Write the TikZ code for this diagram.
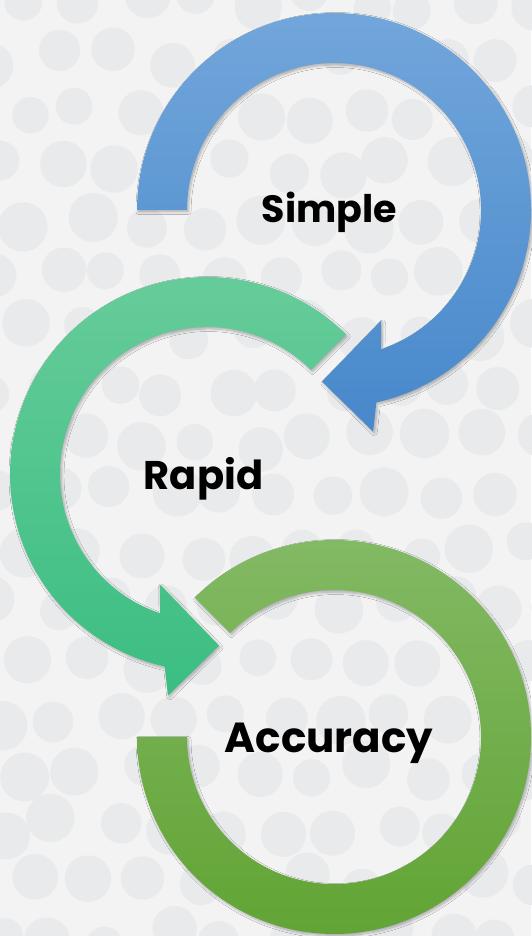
\documentclass[tikz,border=0pt]{standalone}
\usepackage{fontspec}
\newfontfamily\lblfont{Poppins}
\usetikzlibrary{shadows.blur}
\definecolor{bgc}{HTML}{F3F3F3}
\definecolor{dotc}{HTML}{E9EAEC}
\definecolor{blueT}{HTML}{72A6DB}
\definecolor{blueB}{HTML}{4788CB}
\definecolor{tealT}{HTML}{68CC9B}
\definecolor{tealB}{HTML}{3BBE82}
\definecolor{grnT}{HTML}{84BA66}
\definecolor{grnB}{HTML}{60A332}
\tikzset{
  shapeshadow/.style={blur shadow={shadow xshift=1.5pt, shadow yshift=-2pt, shadow blur steps=6, shadow blur radius=2.5pt, shadow opacity=28}},
  lbl/.style={font=\lblfont\bfseries, text=black, inner sep=0pt, anchor=base}
}
\begin{document}
\begin{tikzpicture}[x=1pt,y=1pt]
\useasboundingbox (0,0) rectangle (531,936);
\fill[bgc] (0,0) rectangle (531,936);
% background dot pattern
\pgfmathsetseed{5}
\foreach \j in {0,...,17}{
  \foreach \i in {0,...,10}{
    \pgfmathsetmacro\cx{\i*56+mod(\j,2)*28+rand*10}
    \pgfmathsetmacro\cy{\j*55+rand*10}
    \pgfmathsetmacro\rr{18+rnd*7}
    \fill[dotc] (\cx,\cy) circle[radius=\rr];
  }
}
% blue arrow (Simple)
\begin{scope}[shift={(334,726)}]
  \path[shapeshadow, top color=blueT, bottom color=blueB]
    (180:197) arc[start angle=180, end angle=-77.6, radius=197]
    -- (-80:225) -- (-94:172) -- (-66.8:120) -- (-71.4:147)
    arc[start angle=-71.4, end angle=180, radius=147] -- cycle;
\end{scope}
% teal arrow (Rapid)
\begin{scope}[shift={(207,462)}]
  \path[shapeshadow, top color=tealT, bottom color=tealB]
    (45:197) arc[start angle=45, end angle=257.6, radius=197]
    -- (260:225) -- (274:172) -- (246.8:120) -- (251.4:147)
    arc[start angle=251.4, end angle=45, radius=147] -- cycle;
\end{scope}
% green ring (Accuracy)
\begin{scope}[shift={(334,199)}]
  \path[shapeshadow, top color=grnT, bottom color=grnB]
    (135:197) arc[start angle=135, end angle=-180, radius=197]
    -- (180:147) arc[start angle=-180, end angle=135, radius=147] -- cycle;
\end{scope}
\node[lbl, font=\lblfont\bfseries\fontsize{38}{42}\selectfont] (simple) at (329.5,713) {Simple};
\node[lbl, font=\lblfont\bfseries\fontsize{40}{44}\selectfont] (rapid) at (203.5,446) {Rapid};
\node[lbl, font=\lblfont\bfseries\fontsize{42}{46}\selectfont] (accuracy) at (329,183) {Accuracy};
\end{tikzpicture}
\end{document}
